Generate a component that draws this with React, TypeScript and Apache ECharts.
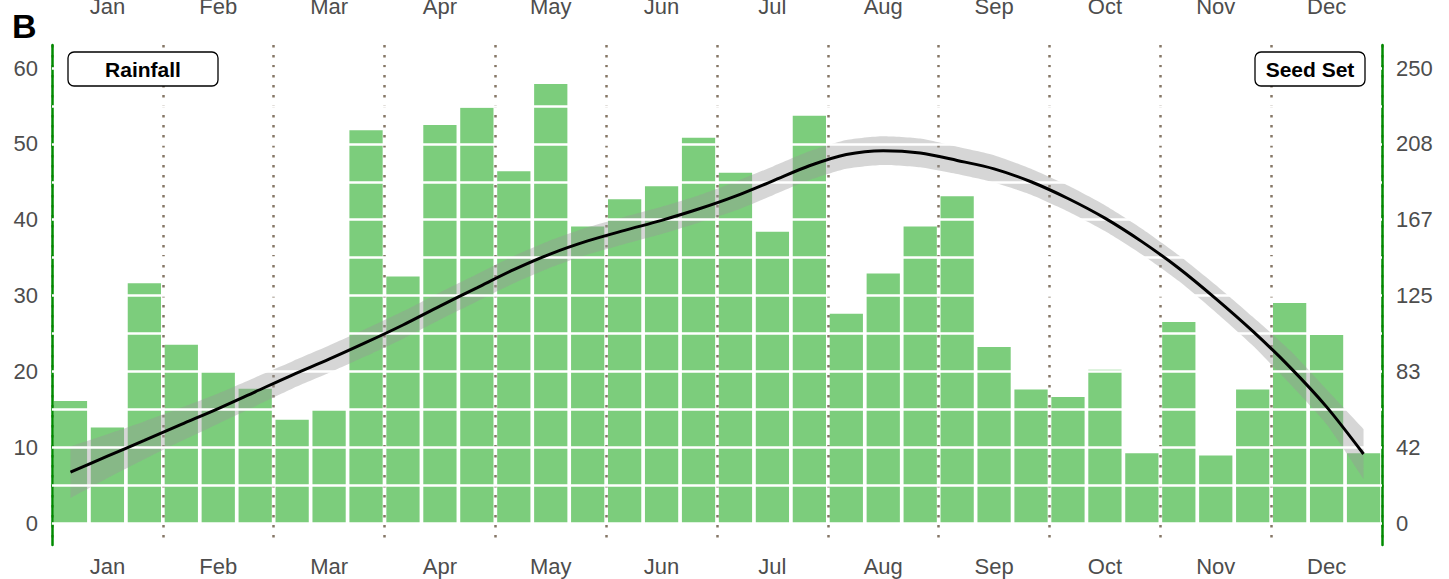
import React, { useEffect, useRef } from "react";
import * as echarts from "echarts";

const months = ["Jan", "Feb", "Mar", "Apr", "May", "Jun", "Jul", "Aug", "Sep", "Oct", "Nov", "Dec"];
const periods = months.flatMap((m) => [`${m} I`, `${m} II`, `${m} III`]);

// Rainfall (left axis, 0–60)
const rainfall = [
  16.1, 12.6, 31.6, 23.5, 19.9, 17.7, 13.6, 14.9, 51.8, 32.5, 52.5, 54.8,
  46.4, 57.9, 39.1, 42.7, 44.4, 50.8, 46.2, 38.4, 53.7, 27.6, 32.9, 39.1,
  43.1, 23.2, 17.6, 16.6, 20.2, 9.2, 26.5, 8.9, 17.6, 29.0, 24.8, 9.2,
];

// Seed set smooth fit (right axis, 0–250)
const seedFit = [
  27.9, 36.7, 45.4, 54.2, 62.9, 72.1, 81.3, 90.0, 99.2, 108.8, 119.2, 129.2,
  139.2, 147.9, 155.0, 160.8, 166.3, 172.5, 179.6, 187.9, 196.3, 202.5, 204.6, 203.3,
  199.2, 194.6, 187.5, 178.3, 167.5, 154.6, 140.0, 123.3, 105.4, 85.8, 63.8, 37.9,
];
const seedLower = [
  13.7, 24.6, 35.0, 45.0, 54.6, 64.2, 73.8, 82.5, 91.7, 101.3, 111.7, 121.7,
  131.7, 140.4, 147.5, 153.3, 158.8, 165.0, 171.7, 180.0, 188.4, 194.6, 196.7, 195.4,
  191.7, 187.1, 180.4, 171.2, 160.4, 147.5, 132.9, 115.8, 97.5, 76.6, 54.2, 24.1,
];
const seedUpper = [
  42.1, 48.8, 55.8, 63.4, 71.2, 80.0, 88.8, 97.5, 106.7, 116.3, 126.7, 136.7,
  146.7, 155.4, 162.5, 168.3, 173.8, 180.0, 187.5, 195.8, 204.2, 210.4, 212.5, 211.2,
  206.7, 202.1, 194.6, 185.4, 174.6, 161.7, 147.1, 130.8, 113.3, 95.0, 73.4, 51.7,
];

const FONT = "'Liberation Sans', Arial, Helvetica, sans-serif";
const TXT = "#4D4D4D";
const GREEN = "#008B00";

export default function App() {
  const ref = useRef<HTMLDivElement>(null);

  useEffect(() => {
    document.body.style.margin = "0";
    if (!ref.current) return;
    const chart = echarts.init(ref.current, undefined, { renderer: "svg" });

    const bandWidth = seedUpper.map((u, i) => +(u - seedLower[i]).toFixed(2));

    chart.setOption({
      animation: false,
      backgroundColor: "#ffffff",
      textStyle: { fontFamily: FONT },
      grid: [
        { left: 52, right: 67, top: 68, bottom: 56, outerBoundsMode: "none", containLabel: false },
        { left: 52, right: 67, top: 45, bottom: 34, outerBoundsMode: "none", containLabel: false },
      ],
      xAxis: [
        {
          type: "category",
          gridIndex: 0,
          data: periods,
          boundaryGap: true,
          axisLine: { show: false },
          axisTick: { show: false },
          axisLabel: { show: false },
          splitLine: { show: false },
        },
        {
          type: "category",
          gridIndex: 1,
          data: months,
          boundaryGap: true,
          position: "bottom",
          z: 3,
          axisLine: { show: false },
          axisTick: { show: false },
          axisLabel: { color: TXT, fontSize: 22, margin: 10, fontFamily: FONT },
          splitLine: {
            show: true,
            lineStyle: { color: "#857766", width: 2.5, type: [2.5, 7.5] },
          },
        },
        {
          type: "category",
          gridIndex: 1,
          data: months,
          boundaryGap: true,
          position: "top",
          axisLine: { show: false },
          axisTick: { show: false },
          axisLabel: { color: TXT, fontSize: 22, margin: 28, fontFamily: FONT },
          splitLine: { show: false },
        },
      ],
      yAxis: [
        {
          type: "value",
          gridIndex: 0,
          min: 0,
          max: 60,
          interval: 5,
          z: 5,
          axisLine: { show: false },
          axisTick: { show: false },
          axisLabel: {
            color: TXT,
            fontSize: 22,
            margin: 14,
            fontFamily: FONT,
            formatter: (v: number) => (v % 10 === 0 ? String(v) : ""),
          },
          splitLine: { show: true, lineStyle: { color: "#ffffff", width: 2.5 } },
        },
        {
          type: "value",
          gridIndex: 0,
          position: "right",
          min: 0,
          max: 250,
          interval: 250 / 6,
          z: 5,
          axisLine: { show: false },
          axisTick: { show: false },
          axisLabel: {
            color: TXT,
            fontSize: 22,
            margin: 14,
            fontFamily: FONT,
            formatter: (v: number) => String(Math.round(v)),
          },
          splitLine: { show: false },
        },
        {
          type: "value",
          gridIndex: 1,
          min: 0,
          max: 1,
          z: 4,
          axisLine: { show: true, lineStyle: { color: GREEN, width: 2.5 } },
          axisTick: { show: false },
          axisLabel: { show: false },
          splitLine: { show: false },
        },
        {
          type: "value",
          gridIndex: 1,
          position: "right",
          min: 0,
          max: 1,
          z: 4,
          axisLine: { show: true, lineStyle: { color: GREEN, width: 2.5 } },
          axisTick: { show: false },
          axisLabel: { show: false },
          splitLine: { show: false },
        },
      ],
      series: [
        {
          name: "Rainfall",
          type: "bar",
          xAxisIndex: 0,
          yAxisIndex: 0,
          data: rainfall,
          barCategoryGap: "10%",
          itemStyle: { color: "#7CCD7C" },
          z: 2,
        },
        {
          name: "lower",
          type: "line",
          xAxisIndex: 0,
          yAxisIndex: 1,
          data: seedLower,
          stack: "band",
          symbol: "none",
          smooth: 0.2,
          lineStyle: { opacity: 0 },
          z: 3,
        },
        {
          name: "band",
          type: "line",
          xAxisIndex: 0,
          yAxisIndex: 1,
          data: bandWidth,
          stack: "band",
          symbol: "none",
          smooth: 0.2,
          lineStyle: { opacity: 0 },
          areaStyle: { color: "rgba(153,153,153,0.4)", opacity: 1 },
          z: 3,
        },
        {
          name: "Seed Set",
          type: "line",
          xAxisIndex: 0,
          yAxisIndex: 1,
          data: seedFit,
          symbol: "none",
          smooth: 0.3,
          lineStyle: { color: "#000000", width: 3 },
          z: 10,
        },
      ],
      graphic: [
        {
          type: "text",
          left: 12,
          top: 9,
          z: 100,
          style: { text: "B", font: `bold 34px ${FONT}`, fill: "#000000" },
        },
        {
          type: "rect",
          z: 100,
          shape: { x: 68, y: 52, width: 150, height: 34, r: 6 },
          style: { fill: "#ffffff", stroke: "#000000", lineWidth: 1.3 },
        },
        {
          type: "text",
          z: 101,
          x: 143,
          y: 69,
          style: {
            text: "Rainfall",
            font: `bold 21px ${FONT}`,
            fill: "#000000",
            align: "center",
            verticalAlign: "middle",
          },
        },
        {
          type: "rect",
          z: 100,
          shape: { x: 1255, y: 52, width: 110, height: 34, r: 6 },
          style: { fill: "#ffffff", stroke: "#000000", lineWidth: 1.3 },
        },
        {
          type: "text",
          z: 101,
          x: 1310,
          y: 69,
          style: {
            text: "Seed Set",
            font: `bold 21px ${FONT}`,
            fill: "#000000",
            align: "center",
            verticalAlign: "middle",
          },
        },
      ],
    });

    return () => chart.dispose();
  }, []);

  return <div ref={ref} style={{ width: 1449, height: 579 }} />;
}
